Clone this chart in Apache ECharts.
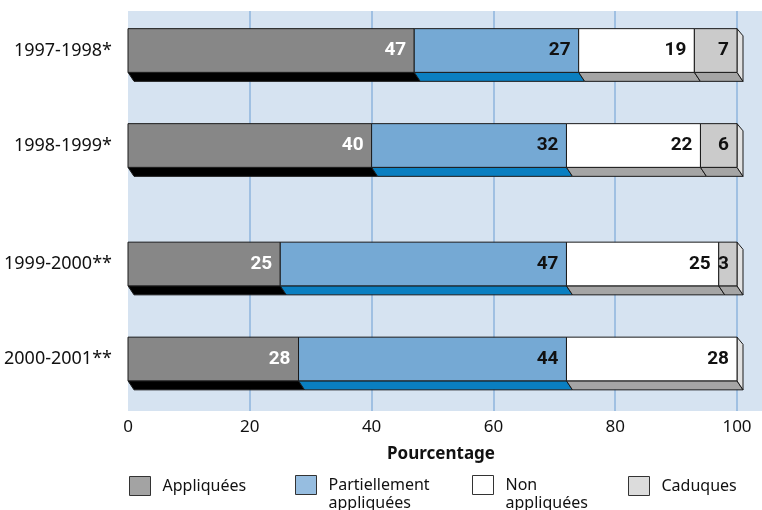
<!DOCTYPE html>
<html>
<head>
<meta charset="utf-8">
<script src="https://cdn.jsdelivr.net/npm/echarts@6/dist/echarts.min.js"></script>
<style>html,body{margin:0;padding:0;background:#fff;}#chart{width:762px;height:510px;}</style>
</head>
<body>
<div id="chart"></div>
<script>
// ---- data ----
const categories = ['1997-1998*', '1998-1999*', '1999-2000**', '2000-2001**'];
const seriesNames = ['Appliquées', 'Partiellement appliquées', 'Non appliquées', 'Caduques'];
const appliquees = [47, 40, 25, 28];
const partiellement = [27, 32, 47, 44];
const nonAppliquees = [19, 22, 25, 28];
const caduques = [7, 6, 3, 0];
const axisName = 'Pourcentage';
const xMin = 0, xMax = 100, xStep = 20;
const groups = [[0, 1], [2, 3]]; // rows drawn in upper and lower block

// ---- styles ----
const faceColors = ['#878787', '#75a9d4', '#ffffff', '#cbcbcb'];
const bottomColors = ['#000000', '#0a7fc1', '#a5a5a5', '#a5a5a5'];
const sideColor = '#e2e2e2';
const labelColors = ['#ffffff', '#111111', '#111111', '#111111'];
const legendColors = ['#a3a3a3', '#96bde0', '#ffffff', '#dcdcdc'];
const legendLabels = ['Appliquées', '\nPartiellement\nappliquées', '\nNon\nappliquées', 'Caduques'];
const legendLeft = [129, 295, 472, 628];
const FONT = "'Noto Sans', 'Open Sans', sans-serif";
const NUMFONT = "Roboto, 'Noto Sans', sans-serif";
const DX = 6, DY = 9;

const values = [appliquees, partiellement, nonAppliquees, caduques];
const totals = categories.map((c, r) => values.reduce((s, arr) => s + arr[r], 0));

function renderItem(params, api) {
  const si = params.seriesIndex % 4;
  const p0 = api.coord([api.value(0), api.value(2)]);
  const p1 = api.coord([api.value(1), api.value(2)]);
  const band = api.size([0, 1])[1];
  const h = band * 0.46;
  const x0 = p0[0], x1 = p1[0];
  const yt = p1[1] - h / 2, yb = p1[1] + h / 2;
  const stroke = '#1a1a1a';
  const children = [
    { type: 'polygon', shape: { points: [[x0, yb], [x1, yb], [x1 + DX, yb + DY], [x0 + DX, yb + DY]] },
      style: { fill: bottomColors[si], stroke: stroke, lineWidth: 1 } }
  ];
  if (api.value(4) === 1) {
    children.push({ type: 'polygon', shape: { points: [[x1, yt], [x1 + DX, yt + DY * 0.8], [x1 + DX, yb + DY], [x1, yb]] },
      style: { fill: sideColor, stroke: stroke, lineWidth: 1 } });
  }
  children.push({ type: 'rect', shape: { x: x0, y: yt, width: x1 - x0, height: h },
    style: { fill: faceColors[si], stroke: stroke, lineWidth: 1 } });
  children.push({ type: 'text', style: { text: String(api.value(3)), x: x1 - 8, y: p1[1],
    align: 'right', verticalAlign: 'middle', fill: labelColors[si],
    fontFamily: NUMFONT, fontWeight: 'bold', fontSize: 19 } });
  return { type: 'group', children: children };
}

const series = [];
groups.forEach((rows, g) => {
  values.forEach((arr, si) => {
    const data = [];
    rows.forEach((r, local) => {
      let start = 0;
      for (let k = 0; k < si; k++) start += values[k][r];
      const v = arr[r];
      if (v > 0) data.push([start, start + v, local, v, (start + v) >= totals[r] ? 1 : 0]);
    });
    series.push({
      name: seriesNames[si], type: 'custom', xAxisIndex: g + 1, yAxisIndex: g + 1,
      renderItem: renderItem, encode: { x: [0, 1], y: 2 }, data: data,
      itemStyle: { color: legendColors[si] }, animation: false
    });
  });
});

const legends = seriesNames.map((n, i) => {
  const twoLine = legendLabels[i].indexOf('\n') >= 0;
  return {
    left: legendLeft[i], top: twoLine ? 476 - 18 : 476, padding: 0, orient: 'horizontal',
    itemWidth: 21, itemHeight: 19, selectedMode: false,
    data: [{ name: n, icon: 'rect', itemStyle: { color: legendColors[i], borderColor: '#333', borderWidth: 1 } }],
    formatter: () => legendLabels[i],
    textStyle: { fontFamily: FONT, fontSize: 16, color: '#111', lineHeight: 18, padding: [0, 0, 0, 7] }
  };
});

const chart = echarts.init(document.getElementById('chart'), null, { renderer: 'canvas' });
chart.setOption({
  animation: false,
  graphic: [{ type: 'rect', z: -10, shape: { x: 128, y: 11, width: 634, height: 400 }, style: { fill: '#d6e3f1' } }],
  grid: [
    { left: 128, right: 25, top: 11, height: 400 },
    { left: 128, right: 25, top: 3, height: 190 },
    { left: 128, right: 25, top: 216.5, height: 190 }
  ],
  xAxis: [
    { gridIndex: 0, type: 'value', min: xMin, max: xMax, interval: xStep,
      axisLine: { show: false }, axisTick: { show: false },
      splitLine: { show: true, showMinLine: false, lineStyle: { color: '#a0c0e2', width: 2 } },
      axisLabel: { fontFamily: FONT, fontSize: 17, color: '#111', margin: 8 },
      name: axisName, nameLocation: 'middle', nameGap: 35,
      nameTextStyle: { fontFamily: FONT, fontSize: 17, fontWeight: 'bold', color: '#111', padding: [0, 0, 0, 17] } },
    { gridIndex: 1, type: 'value', min: xMin, max: xMax, show: false },
    { gridIndex: 2, type: 'value', min: xMin, max: xMax, show: false }
  ],
  yAxis: [
    { gridIndex: 0, type: 'value', show: false },
    { gridIndex: 1, type: 'category', inverse: true, data: groups[0].map(r => categories[r]),
      axisLine: { show: false }, axisTick: { show: false }, splitLine: { show: false },
      axisLabel: { fontFamily: FONT, fontSize: 18, color: '#111', margin: 16 } },
    { gridIndex: 2, type: 'category', inverse: true, data: groups[1].map(r => categories[r]),
      axisLine: { show: false }, axisTick: { show: false }, splitLine: { show: false },
      axisLabel: { fontFamily: FONT, fontSize: 18, color: '#111', margin: 16 } }
  ],
  legend: legends,
  series: series
});
</script>
</body>
</html>
